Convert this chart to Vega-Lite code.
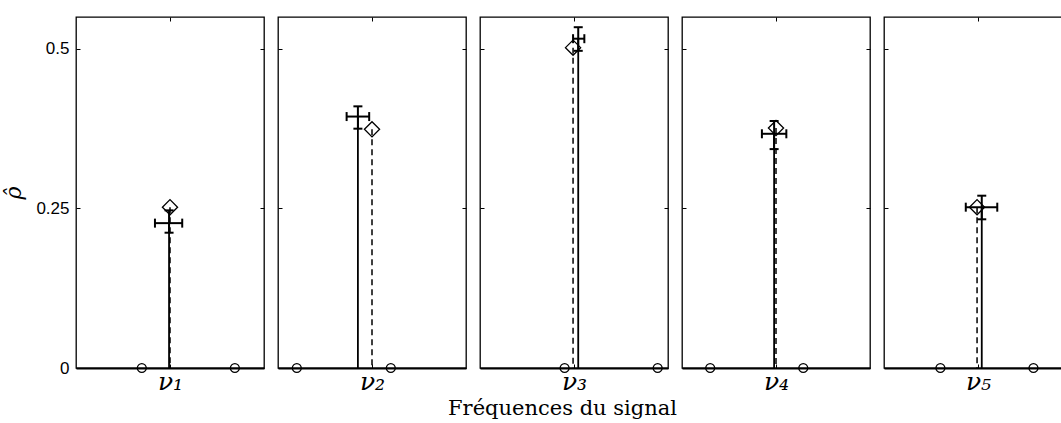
{
  "$schema": "https://vega.github.io/schema/vega-lite/v6.json",
  "padding": {"left": 2, "top": 15, "right": 0, "bottom": 0},
  "background": "white",
  "bounds": "flush",
  "spacing": 14,
  "datasets": {
    "est": [
      {"p": 1, "tx": 0, "ta": 0.252, "ex": -0.01, "ea": 0.227, "lo": 0.212, "hi": 0.247, "xlo": -0.16, "xhi": 0.13},
      {"p": 2, "tx": 0, "ta": 0.374, "ex": -0.15, "ea": 0.394, "lo": 0.375, "hi": 0.41, "xlo": -0.27, "xhi": -0.03},
      {"p": 3, "tx": -0.01, "ta": 0.502, "ex": 0.045, "ea": 0.516, "lo": 0.497, "hi": 0.534, "xlo": -0.01, "xhi": 0.11},
      {"p": 4, "tx": 0, "ta": 0.376, "ex": -0.02, "ea": 0.367, "lo": 0.343, "hi": 0.387, "xlo": -0.15, "xhi": 0.11},
      {"p": 5, "tx": -0.01, "ta": 0.252, "ex": 0.04, "ea": 0.252, "lo": 0.233, "hi": 0.27, "xlo": -0.13, "xhi": 0.205}
    ],
    "grid": [
      {"p": 1, "g": -0.30}, {"p": 1, "g": 0.69},
      {"p": 2, "g": -0.80}, {"p": 2, "g": 0.20},
      {"p": 3, "g": -0.10}, {"p": 3, "g": 0.89},
      {"p": 4, "g": -0.70}, {"p": 4, "g": 0.29},
      {"p": 5, "g": -0.40}, {"p": 5, "g": 0.59}
    ]
  },
  "config": {
    "view": {"stroke": "black", "strokeWidth": 1.3},
    "axis": {"grid": false, "tickColor": "black", "domainColor": "black", "labelColor": "black", "titleColor": "black", "tickWidth": 1}
  },
  "hconcat": [
    {
      "width": 188, "height": 351,
      "resolve": {"axis": {"x": "independent", "y": "independent"}},
      "layer": [
        {"data": {"name": "est"}, "transform": [{"filter": "datum.p == 1"}],
         "mark": {"type": "rule", "color": "black", "strokeWidth": 1.5, "strokeDash": [6, 4]},
         "encoding": {
           "x": {"field": "tx", "type": "quantitative", "scale": {"domain": [-1, 1], "nice": false, "zero": false},
                 "axis": {"orient": "bottom", "values": [0], "labelExpr": "'ν₁'", "tickSize": -4, "domainWidth": 2, "labelFont": "DejaVu Serif", "labelFontStyle": "italic", "labelFontSize": 25, "labelPadding": 5, "labelDx": 4, "title": null}},
           "y": {"field": "ta", "type": "quantitative", "scale": {"domain": [0, 0.55], "nice": false},
                 "axis": {"orient": "left", "values": [0, 0.25, 0.5], "labelExpr": "datum.value == 0 ? '0' : (datum.value == 0.5 ? '0.5' : '0.25')", "tickSize": -4, "domain": false, "labelFont": "Liberation Sans", "labelFontSize": 17, "labelPadding": 11, "title": "ρ̂", "titleFont": "DejaVu Serif", "titleFontStyle": "italic", "titleFontWeight": "normal", "titleFontSize": 22, "titlePadding": 10}},
           "y2": {"datum": 0}
         }},
        {"data": {"name": "est"}, "transform": [{"filter": "datum.p == 1"}],
         "mark": {"type": "rule", "color": "black", "strokeWidth": 1.8},
         "encoding": {
           "x": {"field": "ex", "type": "quantitative", "scale": {"domain": [-1, 1], "nice": false, "zero": false},
                 "axis": {"orient": "top", "values": [0], "labels": false, "tickSize": -4, "domain": false, "title": null}},
           "y": {"field": "ea", "type": "quantitative", "scale": {"domain": [0, 0.55], "nice": false},
                 "axis": {"orient": "right", "values": [0, 0.25, 0.5], "labels": false, "tickSize": -4, "domain": false, "title": null}},
           "y2": {"datum": 0}
         }},
        {"data": {"name": "grid"}, "transform": [{"filter": "datum.p == 1"}],
         "mark": {"type": "point", "shape": "circle", "filled": false, "size": 80, "color": "black", "strokeWidth": 1.3, "opacity": 1},
         "encoding": {
           "x": {"field": "g", "type": "quantitative", "scale": {"domain": [-1, 1], "nice": false, "zero": false}, "axis": null},
           "y": {"datum": 0, "type": "quantitative", "scale": {"domain": [0, 0.55], "nice": false}, "axis": null}
         }},
        {"data": {"name": "est"}, "transform": [{"filter": "datum.p == 1"}],
         "mark": {"type": "point", "shape": "diamond", "filled": false, "size": 230, "color": "black", "strokeWidth": 1.3, "opacity": 1},
         "encoding": {
           "x": {"field": "tx", "type": "quantitative", "scale": {"domain": [-1, 1], "nice": false, "zero": false}, "axis": null},
           "y": {"field": "ta", "type": "quantitative", "scale": {"domain": [0, 0.55], "nice": false}, "axis": null}
         }},
        {"data": {"name": "est"}, "transform": [{"filter": "datum.p == 1"}],
         "mark": {"type": "rule", "color": "black", "strokeWidth": 2},
         "encoding": {
           "x": {"field": "ex", "type": "quantitative", "scale": {"domain": [-1, 1], "nice": false, "zero": false}, "axis": null},
           "y": {"field": "lo", "type": "quantitative", "scale": {"domain": [0, 0.55], "nice": false}, "axis": null},
           "y2": {"field": "hi"}
         }},
        {"data": {"name": "est"}, "transform": [{"filter": "datum.p == 1"}],
         "mark": {"type": "rule", "color": "black", "strokeWidth": 2},
         "encoding": {
           "x": {"field": "xlo", "type": "quantitative", "scale": {"domain": [-1, 1], "nice": false, "zero": false}, "axis": null},
           "x2": {"field": "xhi"},
           "y": {"field": "ea", "type": "quantitative", "scale": {"domain": [0, 0.55], "nice": false}, "axis": null}
         }},
        {"data": {"name": "est"}, "transform": [{"filter": "datum.p == 1"}, {"fold": ["lo", "hi"], "as": ["k", "v"]}],
         "mark": {"type": "tick", "orient": "horizontal", "color": "black", "size": 9, "thickness": 2, "opacity": 1},
         "encoding": {
           "x": {"field": "ex", "type": "quantitative", "scale": {"domain": [-1, 1], "nice": false, "zero": false}, "axis": null},
           "y": {"field": "v", "type": "quantitative", "scale": {"domain": [0, 0.55], "nice": false}, "axis": null}
         }},
        {"data": {"name": "est"}, "transform": [{"filter": "datum.p == 1"}, {"fold": ["xlo", "xhi"], "as": ["k", "v"]}],
         "mark": {"type": "tick", "orient": "vertical", "color": "black", "size": 9, "thickness": 2, "opacity": 1},
         "encoding": {
           "x": {"field": "v", "type": "quantitative", "scale": {"domain": [-1, 1], "nice": false, "zero": false}, "axis": null},
           "y": {"field": "ea", "type": "quantitative", "scale": {"domain": [0, 0.55], "nice": false}, "axis": null}
         }}
      ]
    },
    {
      "width": 188, "height": 351,
      "resolve": {"axis": {"x": "independent", "y": "independent"}},
      "layer": [
        {"data": {"name": "est"}, "transform": [{"filter": "datum.p == 2"}],
         "mark": {"type": "rule", "color": "black", "strokeWidth": 1.5, "strokeDash": [6, 4]},
         "encoding": {
           "x": {"field": "tx", "type": "quantitative", "scale": {"domain": [-1, 1], "nice": false, "zero": false},
                 "axis": {"orient": "bottom", "values": [0], "labelExpr": "'ν₂'", "tickSize": -4, "domainWidth": 2, "labelFont": "DejaVu Serif", "labelFontStyle": "italic", "labelFontSize": 25, "labelPadding": 5, "labelDx": 4, "title": null}},
           "y": {"field": "ta", "type": "quantitative", "scale": {"domain": [0, 0.55], "nice": false},
                 "axis": {"orient": "left", "values": [0, 0.25, 0.5], "labels": false, "tickSize": -4, "domain": false, "title": null}},
           "y2": {"datum": 0}
         }},
        {"data": {"name": "est"}, "transform": [{"filter": "datum.p == 2"}],
         "mark": {"type": "rule", "color": "black", "strokeWidth": 1.8},
         "encoding": {
           "x": {"field": "ex", "type": "quantitative", "scale": {"domain": [-1, 1], "nice": false, "zero": false},
                 "axis": {"orient": "top", "values": [0], "labels": false, "tickSize": -4, "domain": false, "title": null}},
           "y": {"field": "ea", "type": "quantitative", "scale": {"domain": [0, 0.55], "nice": false},
                 "axis": {"orient": "right", "values": [0, 0.25, 0.5], "labels": false, "tickSize": -4, "domain": false, "title": null}},
           "y2": {"datum": 0}
         }},
        {"data": {"name": "grid"}, "transform": [{"filter": "datum.p == 2"}],
         "mark": {"type": "point", "shape": "circle", "filled": false, "size": 80, "color": "black", "strokeWidth": 1.3, "opacity": 1},
         "encoding": {
           "x": {"field": "g", "type": "quantitative", "scale": {"domain": [-1, 1], "nice": false, "zero": false}, "axis": null},
           "y": {"datum": 0, "type": "quantitative", "scale": {"domain": [0, 0.55], "nice": false}, "axis": null}
         }},
        {"data": {"name": "est"}, "transform": [{"filter": "datum.p == 2"}],
         "mark": {"type": "point", "shape": "diamond", "filled": false, "size": 230, "color": "black", "strokeWidth": 1.3, "opacity": 1},
         "encoding": {
           "x": {"field": "tx", "type": "quantitative", "scale": {"domain": [-1, 1], "nice": false, "zero": false}, "axis": null},
           "y": {"field": "ta", "type": "quantitative", "scale": {"domain": [0, 0.55], "nice": false}, "axis": null}
         }},
        {"data": {"name": "est"}, "transform": [{"filter": "datum.p == 2"}],
         "mark": {"type": "rule", "color": "black", "strokeWidth": 2},
         "encoding": {
           "x": {"field": "ex", "type": "quantitative", "scale": {"domain": [-1, 1], "nice": false, "zero": false}, "axis": null},
           "y": {"field": "lo", "type": "quantitative", "scale": {"domain": [0, 0.55], "nice": false}, "axis": null},
           "y2": {"field": "hi"}
         }},
        {"data": {"name": "est"}, "transform": [{"filter": "datum.p == 2"}],
         "mark": {"type": "rule", "color": "black", "strokeWidth": 2},
         "encoding": {
           "x": {"field": "xlo", "type": "quantitative", "scale": {"domain": [-1, 1], "nice": false, "zero": false}, "axis": null},
           "x2": {"field": "xhi"},
           "y": {"field": "ea", "type": "quantitative", "scale": {"domain": [0, 0.55], "nice": false}, "axis": null}
         }},
        {"data": {"name": "est"}, "transform": [{"filter": "datum.p == 2"}, {"fold": ["lo", "hi"], "as": ["k", "v"]}],
         "mark": {"type": "tick", "orient": "horizontal", "color": "black", "size": 9, "thickness": 2, "opacity": 1},
         "encoding": {
           "x": {"field": "ex", "type": "quantitative", "scale": {"domain": [-1, 1], "nice": false, "zero": false}, "axis": null},
           "y": {"field": "v", "type": "quantitative", "scale": {"domain": [0, 0.55], "nice": false}, "axis": null}
         }},
        {"data": {"name": "est"}, "transform": [{"filter": "datum.p == 2"}, {"fold": ["xlo", "xhi"], "as": ["k", "v"]}],
         "mark": {"type": "tick", "orient": "vertical", "color": "black", "size": 9, "thickness": 2, "opacity": 1},
         "encoding": {
           "x": {"field": "v", "type": "quantitative", "scale": {"domain": [-1, 1], "nice": false, "zero": false}, "axis": null},
           "y": {"field": "ea", "type": "quantitative", "scale": {"domain": [0, 0.55], "nice": false}, "axis": null}
         }}
      ]
    },
    {
      "width": 188, "height": 351,
      "resolve": {"axis": {"x": "independent", "y": "independent"}},
      "layer": [
        {"data": {"name": "est"}, "transform": [{"filter": "datum.p == 3"}],
         "mark": {"type": "rule", "color": "black", "strokeWidth": 1.5, "strokeDash": [6, 4]},
         "encoding": {
           "x": {"field": "tx", "type": "quantitative", "scale": {"domain": [-1, 1], "nice": false, "zero": false},
                 "axis": {"orient": "bottom", "values": [0], "labelExpr": "'ν₃'", "tickSize": -4, "domainWidth": 2, "labelFont": "DejaVu Serif", "labelFontStyle": "italic", "labelFontSize": 25, "labelPadding": 5, "labelDx": 4, "title": "Fréquences du signal", "titleFont": "DejaVu Serif", "titleFontWeight": "normal", "titleFontSize": 21, "titleX": 82, "titleY": 46, "titleAlign": "center", "titleBaseline": "alphabetic"}},
           "y": {"field": "ta", "type": "quantitative", "scale": {"domain": [0, 0.55], "nice": false},
                 "axis": {"orient": "left", "values": [0, 0.25, 0.5], "labels": false, "tickSize": -4, "domain": false, "title": null}},
           "y2": {"datum": 0}
         }},
        {"data": {"name": "est"}, "transform": [{"filter": "datum.p == 3"}],
         "mark": {"type": "rule", "color": "black", "strokeWidth": 1.8},
         "encoding": {
           "x": {"field": "ex", "type": "quantitative", "scale": {"domain": [-1, 1], "nice": false, "zero": false},
                 "axis": {"orient": "top", "values": [0], "labels": false, "tickSize": -4, "domain": false, "title": null}},
           "y": {"field": "ea", "type": "quantitative", "scale": {"domain": [0, 0.55], "nice": false},
                 "axis": {"orient": "right", "values": [0, 0.25, 0.5], "labels": false, "tickSize": -4, "domain": false, "title": null}},
           "y2": {"datum": 0}
         }},
        {"data": {"name": "grid"}, "transform": [{"filter": "datum.p == 3"}],
         "mark": {"type": "point", "shape": "circle", "filled": false, "size": 80, "color": "black", "strokeWidth": 1.3, "opacity": 1},
         "encoding": {
           "x": {"field": "g", "type": "quantitative", "scale": {"domain": [-1, 1], "nice": false, "zero": false}, "axis": null},
           "y": {"datum": 0, "type": "quantitative", "scale": {"domain": [0, 0.55], "nice": false}, "axis": null}
         }},
        {"data": {"name": "est"}, "transform": [{"filter": "datum.p == 3"}],
         "mark": {"type": "point", "shape": "diamond", "filled": false, "size": 230, "color": "black", "strokeWidth": 1.3, "opacity": 1},
         "encoding": {
           "x": {"field": "tx", "type": "quantitative", "scale": {"domain": [-1, 1], "nice": false, "zero": false}, "axis": null},
           "y": {"field": "ta", "type": "quantitative", "scale": {"domain": [0, 0.55], "nice": false}, "axis": null}
         }},
        {"data": {"name": "est"}, "transform": [{"filter": "datum.p == 3"}],
         "mark": {"type": "rule", "color": "black", "strokeWidth": 2},
         "encoding": {
           "x": {"field": "ex", "type": "quantitative", "scale": {"domain": [-1, 1], "nice": false, "zero": false}, "axis": null},
           "y": {"field": "lo", "type": "quantitative", "scale": {"domain": [0, 0.55], "nice": false}, "axis": null},
           "y2": {"field": "hi"}
         }},
        {"data": {"name": "est"}, "transform": [{"filter": "datum.p == 3"}],
         "mark": {"type": "rule", "color": "black", "strokeWidth": 2},
         "encoding": {
           "x": {"field": "xlo", "type": "quantitative", "scale": {"domain": [-1, 1], "nice": false, "zero": false}, "axis": null},
           "x2": {"field": "xhi"},
           "y": {"field": "ea", "type": "quantitative", "scale": {"domain": [0, 0.55], "nice": false}, "axis": null}
         }},
        {"data": {"name": "est"}, "transform": [{"filter": "datum.p == 3"}, {"fold": ["lo", "hi"], "as": ["k", "v"]}],
         "mark": {"type": "tick", "orient": "horizontal", "color": "black", "size": 9, "thickness": 2, "opacity": 1},
         "encoding": {
           "x": {"field": "ex", "type": "quantitative", "scale": {"domain": [-1, 1], "nice": false, "zero": false}, "axis": null},
           "y": {"field": "v", "type": "quantitative", "scale": {"domain": [0, 0.55], "nice": false}, "axis": null}
         }},
        {"data": {"name": "est"}, "transform": [{"filter": "datum.p == 3"}, {"fold": ["xlo", "xhi"], "as": ["k", "v"]}],
         "mark": {"type": "tick", "orient": "vertical", "color": "black", "size": 9, "thickness": 2, "opacity": 1},
         "encoding": {
           "x": {"field": "v", "type": "quantitative", "scale": {"domain": [-1, 1], "nice": false, "zero": false}, "axis": null},
           "y": {"field": "ea", "type": "quantitative", "scale": {"domain": [0, 0.55], "nice": false}, "axis": null}
         }}
      ]
    },
    {
      "width": 188, "height": 351,
      "resolve": {"axis": {"x": "independent", "y": "independent"}},
      "layer": [
        {"data": {"name": "est"}, "transform": [{"filter": "datum.p == 4"}],
         "mark": {"type": "rule", "color": "black", "strokeWidth": 1.5, "strokeDash": [6, 4]},
         "encoding": {
           "x": {"field": "tx", "type": "quantitative", "scale": {"domain": [-1, 1], "nice": false, "zero": false},
                 "axis": {"orient": "bottom", "values": [0], "labelExpr": "'ν₄'", "tickSize": -4, "domainWidth": 2, "labelFont": "DejaVu Serif", "labelFontStyle": "italic", "labelFontSize": 25, "labelPadding": 5, "labelDx": 4, "title": null}},
           "y": {"field": "ta", "type": "quantitative", "scale": {"domain": [0, 0.55], "nice": false},
                 "axis": {"orient": "left", "values": [0, 0.25, 0.5], "labels": false, "tickSize": -4, "domain": false, "title": null}},
           "y2": {"datum": 0}
         }},
        {"data": {"name": "est"}, "transform": [{"filter": "datum.p == 4"}],
         "mark": {"type": "rule", "color": "black", "strokeWidth": 1.8},
         "encoding": {
           "x": {"field": "ex", "type": "quantitative", "scale": {"domain": [-1, 1], "nice": false, "zero": false},
                 "axis": {"orient": "top", "values": [0], "labels": false, "tickSize": -4, "domain": false, "title": null}},
           "y": {"field": "ea", "type": "quantitative", "scale": {"domain": [0, 0.55], "nice": false},
                 "axis": {"orient": "right", "values": [0, 0.25, 0.5], "labels": false, "tickSize": -4, "domain": false, "title": null}},
           "y2": {"datum": 0}
         }},
        {"data": {"name": "grid"}, "transform": [{"filter": "datum.p == 4"}],
         "mark": {"type": "point", "shape": "circle", "filled": false, "size": 80, "color": "black", "strokeWidth": 1.3, "opacity": 1},
         "encoding": {
           "x": {"field": "g", "type": "quantitative", "scale": {"domain": [-1, 1], "nice": false, "zero": false}, "axis": null},
           "y": {"datum": 0, "type": "quantitative", "scale": {"domain": [0, 0.55], "nice": false}, "axis": null}
         }},
        {"data": {"name": "est"}, "transform": [{"filter": "datum.p == 4"}],
         "mark": {"type": "point", "shape": "diamond", "filled": false, "size": 230, "color": "black", "strokeWidth": 1.3, "opacity": 1},
         "encoding": {
           "x": {"field": "tx", "type": "quantitative", "scale": {"domain": [-1, 1], "nice": false, "zero": false}, "axis": null},
           "y": {"field": "ta", "type": "quantitative", "scale": {"domain": [0, 0.55], "nice": false}, "axis": null}
         }},
        {"data": {"name": "est"}, "transform": [{"filter": "datum.p == 4"}],
         "mark": {"type": "rule", "color": "black", "strokeWidth": 2},
         "encoding": {
           "x": {"field": "ex", "type": "quantitative", "scale": {"domain": [-1, 1], "nice": false, "zero": false}, "axis": null},
           "y": {"field": "lo", "type": "quantitative", "scale": {"domain": [0, 0.55], "nice": false}, "axis": null},
           "y2": {"field": "hi"}
         }},
        {"data": {"name": "est"}, "transform": [{"filter": "datum.p == 4"}],
         "mark": {"type": "rule", "color": "black", "strokeWidth": 2},
         "encoding": {
           "x": {"field": "xlo", "type": "quantitative", "scale": {"domain": [-1, 1], "nice": false, "zero": false}, "axis": null},
           "x2": {"field": "xhi"},
           "y": {"field": "ea", "type": "quantitative", "scale": {"domain": [0, 0.55], "nice": false}, "axis": null}
         }},
        {"data": {"name": "est"}, "transform": [{"filter": "datum.p == 4"}, {"fold": ["lo", "hi"], "as": ["k", "v"]}],
         "mark": {"type": "tick", "orient": "horizontal", "color": "black", "size": 9, "thickness": 2, "opacity": 1},
         "encoding": {
           "x": {"field": "ex", "type": "quantitative", "scale": {"domain": [-1, 1], "nice": false, "zero": false}, "axis": null},
           "y": {"field": "v", "type": "quantitative", "scale": {"domain": [0, 0.55], "nice": false}, "axis": null}
         }},
        {"data": {"name": "est"}, "transform": [{"filter": "datum.p == 4"}, {"fold": ["xlo", "xhi"], "as": ["k", "v"]}],
         "mark": {"type": "tick", "orient": "vertical", "color": "black", "size": 9, "thickness": 2, "opacity": 1},
         "encoding": {
           "x": {"field": "v", "type": "quantitative", "scale": {"domain": [-1, 1], "nice": false, "zero": false}, "axis": null},
           "y": {"field": "ea", "type": "quantitative", "scale": {"domain": [0, 0.55], "nice": false}, "axis": null}
         }}
      ]
    },
    {
      "width": 188, "height": 351,
      "resolve": {"axis": {"x": "independent", "y": "independent"}},
      "layer": [
        {"data": {"name": "est"}, "transform": [{"filter": "datum.p == 5"}],
         "mark": {"type": "rule", "color": "black", "strokeWidth": 1.5, "strokeDash": [6, 4]},
         "encoding": {
           "x": {"field": "tx", "type": "quantitative", "scale": {"domain": [-1, 1], "nice": false, "zero": false},
                 "axis": {"orient": "bottom", "values": [0], "labelExpr": "'ν₅'", "tickSize": -4, "domainWidth": 2, "labelFont": "DejaVu Serif", "labelFontStyle": "italic", "labelFontSize": 25, "labelPadding": 5, "labelDx": 4, "title": null}},
           "y": {"field": "ta", "type": "quantitative", "scale": {"domain": [0, 0.55], "nice": false},
                 "axis": {"orient": "left", "values": [0, 0.25, 0.5], "labels": false, "tickSize": -4, "domain": false, "title": null}},
           "y2": {"datum": 0}
         }},
        {"data": {"name": "est"}, "transform": [{"filter": "datum.p == 5"}],
         "mark": {"type": "rule", "color": "black", "strokeWidth": 1.8},
         "encoding": {
           "x": {"field": "ex", "type": "quantitative", "scale": {"domain": [-1, 1], "nice": false, "zero": false},
                 "axis": {"orient": "top", "values": [0], "labels": false, "tickSize": -4, "domain": false, "title": null}},
           "y": {"field": "ea", "type": "quantitative", "scale": {"domain": [0, 0.55], "nice": false},
                 "axis": {"orient": "right", "values": [0, 0.25, 0.5], "labels": false, "tickSize": -4, "domain": false, "title": null}},
           "y2": {"datum": 0}
         }},
        {"data": {"name": "grid"}, "transform": [{"filter": "datum.p == 5"}],
         "mark": {"type": "point", "shape": "circle", "filled": false, "size": 80, "color": "black", "strokeWidth": 1.3, "opacity": 1},
         "encoding": {
           "x": {"field": "g", "type": "quantitative", "scale": {"domain": [-1, 1], "nice": false, "zero": false}, "axis": null},
           "y": {"datum": 0, "type": "quantitative", "scale": {"domain": [0, 0.55], "nice": false}, "axis": null}
         }},
        {"data": {"name": "est"}, "transform": [{"filter": "datum.p == 5"}],
         "mark": {"type": "point", "shape": "diamond", "filled": false, "size": 230, "color": "black", "strokeWidth": 1.3, "opacity": 1},
         "encoding": {
           "x": {"field": "tx", "type": "quantitative", "scale": {"domain": [-1, 1], "nice": false, "zero": false}, "axis": null},
           "y": {"field": "ta", "type": "quantitative", "scale": {"domain": [0, 0.55], "nice": false}, "axis": null}
         }},
        {"data": {"name": "est"}, "transform": [{"filter": "datum.p == 5"}],
         "mark": {"type": "rule", "color": "black", "strokeWidth": 2},
         "encoding": {
           "x": {"field": "ex", "type": "quantitative", "scale": {"domain": [-1, 1], "nice": false, "zero": false}, "axis": null},
           "y": {"field": "lo", "type": "quantitative", "scale": {"domain": [0, 0.55], "nice": false}, "axis": null},
           "y2": {"field": "hi"}
         }},
        {"data": {"name": "est"}, "transform": [{"filter": "datum.p == 5"}],
         "mark": {"type": "rule", "color": "black", "strokeWidth": 2},
         "encoding": {
           "x": {"field": "xlo", "type": "quantitative", "scale": {"domain": [-1, 1], "nice": false, "zero": false}, "axis": null},
           "x2": {"field": "xhi"},
           "y": {"field": "ea", "type": "quantitative", "scale": {"domain": [0, 0.55], "nice": false}, "axis": null}
         }},
        {"data": {"name": "est"}, "transform": [{"filter": "datum.p == 5"}, {"fold": ["lo", "hi"], "as": ["k", "v"]}],
         "mark": {"type": "tick", "orient": "horizontal", "color": "black", "size": 9, "thickness": 2, "opacity": 1},
         "encoding": {
           "x": {"field": "ex", "type": "quantitative", "scale": {"domain": [-1, 1], "nice": false, "zero": false}, "axis": null},
           "y": {"field": "v", "type": "quantitative", "scale": {"domain": [0, 0.55], "nice": false}, "axis": null}
         }},
        {"data": {"name": "est"}, "transform": [{"filter": "datum.p == 5"}, {"fold": ["xlo", "xhi"], "as": ["k", "v"]}],
         "mark": {"type": "tick", "orient": "vertical", "color": "black", "size": 9, "thickness": 2, "opacity": 1},
         "encoding": {
           "x": {"field": "v", "type": "quantitative", "scale": {"domain": [-1, 1], "nice": false, "zero": false}, "axis": null},
           "y": {"field": "ea", "type": "quantitative", "scale": {"domain": [0, 0.55], "nice": false}, "axis": null}
         }}
      ]
    }
  ]
}
